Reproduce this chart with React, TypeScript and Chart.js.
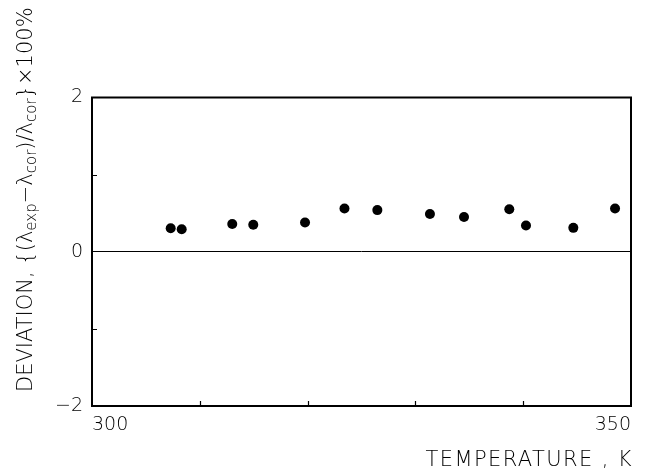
import React, { useEffect, useRef } from 'react';
import { Chart, registerables } from 'chart.js';

Chart.register(...registerables);

// Data
const temperatures = [307.3, 308.32, 313.01, 314.96, 319.76, 323.42, 326.47, 331.35, 334.51, 338.71, 340.26, 344.65, 348.52];
const deviations = [0.305, 0.292, 0.36, 0.35, 0.38, 0.56, 0.54, 0.49, 0.45, 0.55, 0.34, 0.31, 0.56];

// Axis ticks
const xLabeledTicks = [300, 350];
const xMinorTicks = [310, 320, 330, 340];
const yLabeledTicks = [-2, 0, 2];
const yMinorTicks = [-1, 1];

// Axis titles
const xTitle = 'TEMPERATURE , K';
const yTitleParts: [string, boolean][] = [
  ['DEVIATION, {(λ', false],
  ['exp', true],
  ['−λ', false],
  ['cor', true],
  [')/λ', false],
  ['cor', true],
  ['}×100%', false],
];

const FAMILY = '"DejaVu Sans"';
const WEIGHT = '200';

const framePlugin = {
  id: 'framePlugin',
  afterDraw(chart: any) {
    const { ctx, chartArea: a, scales } = chart;
    ctx.save();
    ctx.strokeStyle = '#000';
    ctx.lineWidth = 2;
    ctx.strokeRect(a.left, a.top, a.right - a.left, a.bottom - a.top);

    ctx.lineWidth = 1.2;
    ctx.beginPath();
    for (const v of xMinorTicks) {
      const px = Math.round(scales.x.getPixelForValue(v)) + 0.5;
      ctx.moveTo(px, a.bottom);
      ctx.lineTo(px, a.bottom - 5);
    }
    for (const v of yMinorTicks) {
      const py = Math.round(scales.y.getPixelForValue(v)) + 0.5;
      ctx.moveTo(a.left, py);
      ctx.lineTo(a.left + 5, py);
    }
    ctx.stroke();

    ctx.fillStyle = '#000';
    ctx.font = `${WEIGHT} 21px ${FAMILY}`;
    ctx.textAlign = 'right';
    ctx.textBaseline = 'alphabetic';
    (ctx as any).letterSpacing = '1.4px';
    ctx.fillText(xTitle, a.right + 2, 466);
    (ctx as any).letterSpacing = '0px';

    ctx.translate(32, 392);
    ctx.rotate(-Math.PI / 2);
    ctx.textAlign = 'left';
    let x = 0;
    for (const [text, sub] of yTitleParts) {
      ctx.font = sub ? `${WEIGHT} 15px ${FAMILY}` : `${WEIGHT} 21px ${FAMILY}`;
      ctx.fillText(text, x, sub ? 4 : 0);
      x += ctx.measureText(text).width;
    }
    ctx.restore();
  },
};

export default function App() {
  const ref = useRef<HTMLCanvasElement>(null);

  useEffect(() => {
    if (!ref.current) return;
    const chart = new Chart(ref.current, {
      type: 'scatter',
      data: {
        datasets: [
          {
            data: temperatures.map((t, i) => ({ x: t, y: deviations[i] })),
            pointRadius: 5,
            pointBorderWidth: 0,
            pointBackgroundColor: '#000',
            pointBorderColor: '#000',
          },
        ],
      },
      options: {
        responsive: false,
        animation: false,
        events: [],
        layout: { padding: { top: 97.5, right: 31, left: 0, bottom: 0 } },
        plugins: { legend: { display: false }, tooltip: { enabled: false } },
        scales: {
          x: {
            type: 'linear',
            min: 300,
            max: 350,
            afterFit: (s: any) => { s.height = 63; },
            border: { display: false },
            grid: { display: false },
            ticks: {
              stepSize: 10,
              autoSkip: false,
              maxRotation: 0,
              align: 'inner',
              padding: 0,
              color: '#000',
              font: { family: FAMILY, size: 19, weight: WEIGHT as any },
              callback: (v: any) => (xLabeledTicks.includes(Number(v)) ? String(v) : ''),
            },
          },
          y: {
            type: 'linear',
            min: -2,
            max: 2,
            afterFit: (s: any) => { s.width = 92; },
            border: { display: false },
            grid: {
              drawTicks: false,
              lineWidth: 1,
              color: (c: any) => (c.tick && c.tick.value === 0 ? '#000' : 'rgba(0,0,0,0)'),
            },
            ticks: {
              stepSize: 1,
              padding: 9,
              color: '#000',
              font: { family: FAMILY, size: 19, weight: WEIGHT as any },
              callback: (v: any) => {
                const n = Number(v);
                if (!yLabeledTicks.includes(n)) return '';
                return n < 0 ? '−' + Math.abs(n) : String(n);
              },
            },
          },
        },
      },
      plugins: [framePlugin],
    });
    return () => chart.destroy();
  }, []);

  return (
    <div style={{ position: 'absolute', left: 0, top: 0, width: 662, height: 469, background: '#fff' }}>
      <canvas ref={ref} width={662} height={469} style={{ display: 'block' }} />
    </div>
  );
}
